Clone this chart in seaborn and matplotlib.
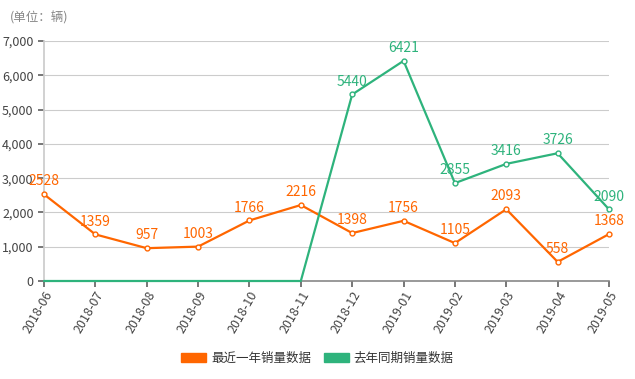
import matplotlib
matplotlib.use("Agg")
import matplotlib.pyplot as plt
import seaborn as sns
import pandas as pd
from matplotlib.patches import Patch
from matplotlib.ticker import FuncFormatter

months = ["2018-06", "2018-07", "2018-08", "2018-09", "2018-10", "2018-11",
          "2018-12", "2019-01", "2019-02", "2019-03", "2019-04", "2019-05"]
recent = [2528, 1359, 957, 1003, 1766, 2216, 1398, 1756, 1105, 2093, 558, 1368]
lastyear = [0, 0, 0, 0, 0, 0, 5440, 6421, 2855, 3416, 3726, 2090]
series_names = ["最近一年销量数据", "去年同期销量数据"]
colors = ["#ff6600", "#2eb37c"]

sns.set_theme(style="white")
plt.rcParams['font.family'] = ['Noto Sans CJK SC', 'DejaVu Sans']

df = pd.DataFrame({
    "month": months * 2,
    "x": list(range(len(months))) * 2,
    "value": recent + lastyear,
    "series": [series_names[0]] * len(months) + [series_names[1]] * len(months),
})

fig = plt.figure(figsize=(6.35, 3.79), dpi=100)
ax = fig.add_axes([44/635, 1-281/379, (609-44)/635, (281-41)/379])

sns.lineplot(data=df, x="x", y="value", hue="series", hue_order=series_names,
             palette=colors, marker="o", markersize=3.5, markerfacecolor="white",
             markeredgewidth=1.0, linewidth=1.6, legend=False, ax=ax, zorder=3)
for line, c in zip(ax.lines, colors):
    line.set_markeredgecolor(c)
    line.set_clip_on(False)
# green series shows no markers at its zero points
ax.lines[1].set_markevery([i for i, v in enumerate(lastyear) if v > 0])

for i, v in enumerate(recent):
    ax.text(i, v + 170, str(v), color=colors[0], ha="center", va="bottom", fontsize=10, zorder=4)
for i, v in enumerate(lastyear):
    if v > 0:
        ax.text(i, v + 170, str(v), color=colors[1], ha="center", va="bottom", fontsize=10, zorder=4)

ax.set_xlim(0, len(months) - 1)
ax.set_ylim(0, 7000)
ax.set_yticks(range(0, 7001, 1000))
ax.yaxis.set_major_formatter(FuncFormatter(lambda v, p: f"{int(v):,}"))
ax.set_xticks(range(len(months)))
ax.set_xticklabels(months, rotation=60, ha="right", rotation_mode="anchor")
ax.grid(axis="y", color="#cccccc", linewidth=0.8)
ax.set_axisbelow(True)
ax.set_xlabel("")
ax.set_ylabel("")
for s in ["top", "right"]:
    ax.spines[s].set_visible(False)
ax.spines["left"].set_color("#cccccc")
ax.spines["bottom"].set_color("#888888")
ax.spines["bottom"].set_linewidth(1.2)
ax.tick_params(axis="both", which="both", length=4, color="#666666", labelsize=9, labelcolor="#444444",
               bottom=True, left=True)
ax.tick_params(axis="x", pad=2)

fig.text(10/635, 1-18/379, "(单位：辆)", fontsize=9, color="#888888", va="center", ha="left")

handles = [Patch(facecolor=c, edgecolor=c) for c in colors]
fig.legend(handles, series_names, loc="center", bbox_to_anchor=(0.5, 1-358/379), ncol=2,
           frameon=False, fontsize=9, handlelength=2.0, handleheight=0.7, columnspacing=1.0,
           handletextpad=0.4, labelcolor="#333333")

fig.savefig("out.png", dpi=100)
